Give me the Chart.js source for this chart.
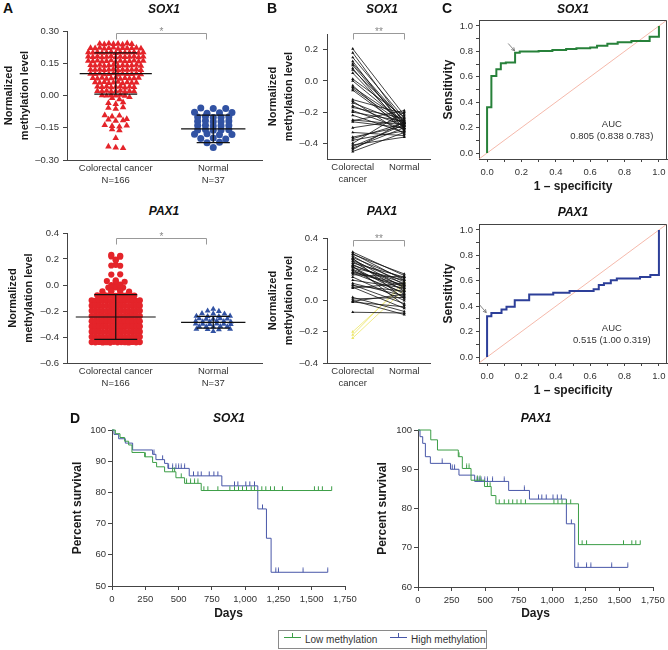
<!DOCTYPE html>
<html>
<head>
<meta charset="utf-8">
<script src="https://cdn.jsdelivr.net/npm/chart.js@4.4.1/dist/chart.umd.min.js"></script>
<style>
  body { margin: 0; background: #fff; }
  #fig { position: relative; width: 668px; height: 650px; overflow: hidden; font-family: "Liberation Sans", Arial, sans-serif; color: #222; }
  #fig canvas { position: absolute; }
  .txt { position: absolute; white-space: nowrap; transform: translate(-50%, -50%); line-height: 1; }
  .letter { font-size: 14px; font-weight: bold; color: #111; }
  .gene { font-size: 12px; font-weight: bold; font-style: italic; color: #111; }
  #legend { position: absolute; left: 278px; top: 630px; width: 209px; height: 19px; box-sizing: border-box; border: 1px solid #8a8a8a; font-size: 10px; color: #333; }
  .item { position: absolute; top: 3px; height: 12px; line-height: 12px; }
  .sample { position: absolute; top: 6px; width: 17px; height: 1px; }
  .sample i { position: absolute; left: 8px; top: -4px; width: 1px; height: 4px; }
</style>
</head>
<body>
<div id="fig">
  <div id="legend">
    <span class="sample" style="left:5px;background:#3c9e47"><i style="background:#3c9e47"></i></span>
    <span class="item" style="left:26px">Low methylation</span>
    <span class="sample" style="left:111px;background:#4857a8"><i style="background:#4857a8"></i></span>
    <span class="item" style="left:132px">High methylation</span>
  </div>
</div>
<script>
// ---- A: methylation levels (beeswarm) ----
const groupLabelsA = [['Colorectal cancer', 'N=166'], ['Normal', 'N=37']];

const sox1CancerA = [
  0.241, 0.238, 0.242, 0.239, 0.240, 0.237, 0.243, 0.239,
  0.221, 0.219, 0.222, 0.218, 0.220, 0.223, 0.217, 0.221, 0.219, 0.220, 0.222, 0.218,
  0.201, 0.199, 0.202, 0.198, 0.200, 0.203, 0.197, 0.201, 0.199, 0.200, 0.202, 0.198, 0.201,
  0.181, 0.179, 0.182, 0.178, 0.180, 0.183, 0.177, 0.181, 0.179, 0.180, 0.182, 0.178, 0.181,
  0.161, 0.159, 0.162, 0.158, 0.160, 0.163, 0.157, 0.161, 0.159, 0.160, 0.162, 0.158, 0.161,
  0.141, 0.139, 0.142, 0.138, 0.140, 0.143, 0.137, 0.141, 0.139, 0.140, 0.142, 0.138,
  0.121, 0.119, 0.122, 0.118, 0.120, 0.123, 0.117, 0.121, 0.119, 0.120, 0.122, 0.118,
  0.101, 0.099, 0.102, 0.098, 0.100, 0.103, 0.097, 0.101, 0.099, 0.100, 0.102, 0.098,
  0.081, 0.079, 0.082, 0.078, 0.080, 0.083, 0.077, 0.081, 0.079, 0.080, 0.082,
  0.061, 0.059, 0.062, 0.058, 0.060, 0.063, 0.057, 0.061, 0.059, 0.060,
  0.041, 0.039, 0.042, 0.038, 0.040, 0.043, 0.037, 0.041, 0.039,
  0.021, 0.019, 0.022, 0.018, 0.020, 0.023, 0.017, 0.021, 0.019,
  0.001, -0.001, 0.002, 0.000, 0.003, -0.002,
  -0.012, -0.018, -0.035, -0.040, -0.032, -0.058, -0.062, -0.055, -0.092, -0.098, -0.094,
  -0.112, -0.118, -0.115, -0.110, -0.138, -0.142, -0.145, -0.140, -0.158, -0.162, -0.198,
  -0.238, -0.242, -0.245, -0.008
];
const sox1NormalA = [
  -0.058, -0.061, -0.060, -0.078, -0.082, -0.080, -0.079,
  -0.100, -0.098, -0.102, -0.101, -0.099, -0.120, -0.118, -0.122, -0.121, -0.119,
  -0.140, -0.138, -0.142, -0.141, -0.139, -0.160, -0.158, -0.162, -0.161, -0.159,
  -0.180, -0.178, -0.182, -0.181, -0.200, -0.198, -0.202, -0.220, -0.218, -0.242
];
const sox1MeanA = [0.102, -0.155];
const sox1SdA = [0.096, 0.064];

const pax1CancerA = [
  0.232, 0.220, 0.225, 0.218, 0.190, 0.195, 0.150, 0.155, 0.148, 0.080, 0.082,
  0.030, 0.028, 0.035, 0.025, 0.005, 0.000, 0.003,
  -0.020, -0.022, -0.018, -0.025, -0.020, -0.045, -0.048, -0.050, -0.042, -0.046, -0.050,
  -0.079, -0.081, -0.078, -0.082, -0.080, -0.083, -0.077, -0.081, -0.079, -0.080, -0.082,
  -0.119, -0.121, -0.118, -0.122, -0.120, -0.123, -0.117, -0.121, -0.119, -0.120, -0.122, -0.118, -0.121, -0.119,
  -0.159, -0.161, -0.158, -0.162, -0.160, -0.163, -0.157, -0.161, -0.159, -0.160, -0.162, -0.158, -0.161, -0.159,
  -0.199, -0.201, -0.198, -0.202, -0.200, -0.203, -0.197, -0.201, -0.199, -0.200, -0.202, -0.198, -0.201, -0.199,
  -0.239, -0.241, -0.238, -0.242, -0.240, -0.243, -0.237, -0.241, -0.239, -0.240, -0.242, -0.238, -0.241, -0.239,
  -0.279, -0.281, -0.278, -0.282, -0.280, -0.283, -0.277, -0.281, -0.279, -0.280, -0.282, -0.278, -0.281, -0.279,
  -0.319, -0.321, -0.318, -0.322, -0.320, -0.323, -0.317, -0.321, -0.319, -0.320, -0.322, -0.318, -0.321, -0.319,
  -0.359, -0.361, -0.358, -0.362, -0.360, -0.363, -0.357, -0.361, -0.359, -0.360, -0.362, -0.358, -0.361, -0.359,
  -0.399, -0.401, -0.398, -0.402, -0.400, -0.403, -0.397, -0.401, -0.399, -0.400, -0.402, -0.398, -0.401, -0.399,
  -0.439, -0.441, -0.438, -0.442, -0.440, -0.443, -0.437, -0.441, -0.439, -0.440, -0.442, -0.438, -0.441, -0.439
];
const pax1NormalA = [
  -0.185, -0.199, -0.202, -0.219, -0.221, -0.222, -0.239, -0.241, -0.242, -0.238,
  -0.259, -0.261, -0.262, -0.258, -0.260, -0.279, -0.281, -0.282, -0.278, -0.280, -0.283,
  -0.299, -0.301, -0.302, -0.298, -0.300, -0.303, -0.319, -0.321, -0.322, -0.318, -0.320,
  -0.339, -0.341, -0.342, -0.338, -0.356
];
const pax1MeanA = [-0.246, -0.287];
const pax1SdA = [0.172, 0.045];

// ---- B: paired samples ----
const groupLabelsB = [['Colorectal', 'cancer'], 'Normal'];
const sox1PairCancer = [0.205, 0.180, 0.150, 0.125, 0.110, 0.100, 0.080, 0.070, 0.050, 0.012, 0.000, -0.030, -0.040,
  -0.050, -0.060, -0.120, -0.130, -0.140, -0.160, -0.170, -0.190, -0.200, -0.220, -0.250, -0.255, -0.262,
  -0.300, -0.330, -0.360, -0.370, -0.380, -0.400, -0.410, -0.420, -0.430, -0.440, -0.452];
const sox1PairNormal = [-0.220, -0.270, -0.240, -0.300, -0.260, -0.280, -0.310, -0.250, -0.290, -0.230, -0.270, -0.320,
  -0.260, -0.280, -0.300, -0.210, -0.340, -0.270, -0.290, -0.240, -0.310, -0.260, -0.330, -0.280, -0.190,
  -0.300, -0.250, -0.350, -0.290, -0.270, -0.320, -0.200, -0.360, -0.280, -0.300, -0.260, -0.330];
const pax1PairCancer = [0.310, 0.300, 0.295, 0.285, 0.275, 0.265, 0.255, 0.250, 0.240, 0.230, 0.225, 0.215, 0.210,
  0.200, 0.195, 0.185, 0.175, 0.165, 0.150, 0.130, 0.110, 0.100, 0.095, 0.085, 0.080, 0.020, 0.010, 0.000,
  -0.005, -0.010, -0.075, 0.270, 0.220, 0.180];
const pax1PairNormal = [0.160, 0.130, 0.170, 0.100, 0.140, 0.080, 0.120, 0.060, 0.150, 0.090, 0.110, 0.040, 0.130,
  0.070, 0.020, 0.100, 0.050, 0.150, 0.000, 0.080, 0.030, -0.020, 0.060, -0.050, 0.110, -0.070, 0.020,
  -0.090, 0.040, -0.040, -0.080, 0.010, -0.030, 0.090];
const pax1PairCancerYellow = [-0.200, -0.220, -0.240];
const pax1PairNormalYellow = [0.100, 0.120, 0.070];

// ---- C: ROC curves [1 - specificity, sensitivity] ----
const rocSox1 = [[0, 0], [0, 0.361], [0.025, 0.607], [0.054, 0.660], [0.080, 0.707], [0.109, 0.712], [0.163, 0.790],
  [0.190, 0.800], [0.300, 0.803], [0.380, 0.810], [0.460, 0.818], [0.520, 0.825], [0.600, 0.830], [0.640, 0.845],
  [0.700, 0.860], [0.760, 0.872], [0.840, 0.882], [0.946, 0.916], [1.0, 1.0]];
const rocPax1 = [[0, 0], [0, 0.321], [0.025, 0.347], [0.084, 0.374], [0.113, 0.395], [0.161, 0.447], [0.245, 0.492],
  [0.385, 0.505], [0.480, 0.520], [0.620, 0.534], [0.650, 0.566], [0.680, 0.580], [0.720, 0.605], [0.755, 0.618],
  [0.890, 0.630], [0.950, 0.645], [1.0, 0.653], [1.0, 1.0]];
const aucSox1 = ['AUC', '0.805 (0.838 0.783)'];
const aucPax1 = ['AUC', '0.515 (1.00 0.319)'];
const rocTicks = [0, 0.1, 0.2, 0.3, 0.4, 0.5, 0.6, 0.7, 0.8, 0.9, 1.0];

// ---- D: Kaplan-Meier [day, percent survival] ----
const kmDays = [0, 250, 500, 750, 1000, 1250, 1500, 1750];
const sox1Low = [[0, 100], [25, 98.8], [60, 97.6], [95, 96.4], [125, 95.2], [150, 92.8], [245, 91.4], [305, 89.6],
  [335, 88.2], [395, 86.6], [480, 84.7], [545, 82.9], [670, 80.6], [1650, 80.6]];
const sox1High = [[0, 100], [15, 98.6], [50, 97.2], [100, 95.8], [155, 93.6], [305, 92.2], [330, 90.5], [395, 89.3],
  [420, 87.7], [580, 85.3], [825, 82.1], [1095, 74.7], [1160, 65.3], [1195, 54.4], [1620, 54.4]];
const sox1LowCensor = [250, 455, 470, 520, 560, 590, 620, 645, 690, 720, 795, 885, 920, 950, 980, 1010, 1045, 1070,
  1125, 1155, 1190, 1220, 1280, 1520, 1550, 1580, 1650];
const sox1HighCensor = [315, 380, 425, 455, 480, 500, 520, 545, 612, 645, 670, 730, 765, 795, 920, 945, 1005, 1035,
  1070, 1130, 1230, 1250, 1435, 1620];
const pax1Low = [[0, 100], [95, 97.5], [145, 94.9], [300, 93.2], [330, 90.2], [395, 87.2], [495, 85.6], [545, 83.3],
  [580, 81.2], [1195, 70.8], [1655, 70.8]];
const pax1High = [[0, 100], [15, 98.3], [35, 96.6], [55, 93.2], [92, 91.5], [242, 90.0], [305, 88.5], [422, 86.9],
  [675, 84.6], [830, 82.4], [1105, 76.1], [1167, 65.0], [1562, 65.0]];
const pax1LowCensor = [305, 362, 380, 442, 462, 517, 537, 605, 642, 675, 705, 737, 767, 800, 1012, 1042, 1072, 1105,
  1137, 1222, 1255, 1530, 1592, 1622, 1655];
const pax1HighCensor = [180, 255, 272, 440, 455, 470, 497, 517, 555, 642, 792, 897, 922, 955, 1005, 1037, 1067, 1142,
  1192, 1255, 1287, 1442, 1562];

// ---------------------------------------------------------------
Chart.defaults.font.family = '"Liberation Sans", Arial, sans-serif';
Chart.defaults.color = '#333';
const fig = document.getElementById('fig');
const RED = '#e4242a', BLUE = '#3152a3', GREEN_KM = '#3c9e47', BLUE_KM = '#4857a8';

function put(text, x, y, cls) {
  const d = document.createElement('div');
  d.className = 'txt ' + cls;
  d.textContent = text;
  d.style.left = x + 'px';
  d.style.top = y + 'px';
  fig.appendChild(d);
}

// rows of equal value spread sideways, like a dot plot
function swarm(values, center, stepY, gap, wide) {
  const rows = {};
  values.forEach(v => {
    const k = Math.round(v / stepY);
    (rows[k] = rows[k] || []).push(v);
  });
  const pts = [];
  Object.values(rows).forEach(row => {
    const sp = row.length <= 4 ? gap * wide : gap;
    row.forEach((v, i) => pts.push({ x: center + (i - (row.length - 1) / 2) * sp, y: v }));
  });
  return pts;
}

function meanSd(mean, sd, c, hm, hc) {
  return [
    { x: c - hm, y: mean }, { x: c + hm, y: mean }, { x: c, y: null },
    { x: c - hc, y: mean + sd }, { x: c + hc, y: mean + sd }, { x: c, y: null },
    { x: c - hc, y: mean - sd }, { x: c + hc, y: mean - sd }, { x: c, y: null },
    { x: c, y: mean - sd }, { x: c, y: mean + sd }
  ];
}

function survAt(steps, t) {
  let s = steps[0][1];
  steps.forEach(p => { if (p[0] <= t) s = p[1]; });
  return s;
}

function censorMark(color) {
  const c = document.createElement('canvas');
  c.width = 3; c.height = 10;
  const g = c.getContext('2d');
  g.strokeStyle = color; g.lineWidth = 1;
  g.beginPath(); g.moveTo(1.5, 0.5); g.lineTo(1.5, 5); g.stroke();
  return c;
}

const dash = v => String(v).replace('-', '–');

const deco = {
  id: 'deco',
  afterDatasetsDraw(chart, args, o) {
    const { ctx, chartArea: a, scales: { x, y } } = chart;
    ctx.save();
    if (o.frame) {
      ctx.strokeStyle = '#444'; ctx.lineWidth = 1;
      ctx.beginPath();
      ctx.moveTo(a.left, a.top + 0.5);
      ctx.lineTo(a.right - 0.5, a.top + 0.5);
      ctx.lineTo(a.right - 0.5, a.bottom);
      ctx.stroke();
    }
    if (o.bracket) {
      const b = o.bracket;
      const p1 = Math.round(x.getPixelForValue(b.x1)) + 0.5, p2 = Math.round(x.getPixelForValue(b.x2)) + 0.5;
      const py = Math.round(y.getPixelForValue(b.y)) + 0.5;
      ctx.strokeStyle = '#999'; ctx.lineWidth = 1;
      ctx.beginPath();
      ctx.moveTo(p1, py + 6); ctx.lineTo(p1, py); ctx.lineTo(p2, py); ctx.lineTo(p2, py + 6);
      ctx.stroke();
      ctx.fillStyle = '#888'; ctx.font = '10px "Liberation Sans", Arial';
      ctx.textAlign = 'center'; ctx.textBaseline = 'alphabetic';
      ctx.fillText(b.text, (p1 + p2) / 2, py + 1);
    }
    (o.texts || []).forEach(t => {
      ctx.fillStyle = '#333'; ctx.font = '9.5px "Liberation Sans", Arial';
      ctx.textAlign = 'center'; ctx.textBaseline = 'middle';
      ctx.fillText(t.t, x.getPixelForValue(t.x), y.getPixelForValue(t.y));
    });
    if (o.arrow) {
      const [fx, fy] = o.arrow.from, [tx, ty] = o.arrow.to;
      const x1 = x.getPixelForValue(fx), y1 = y.getPixelForValue(fy);
      const x2 = x.getPixelForValue(tx), y2 = y.getPixelForValue(ty);
      const ang = Math.atan2(y2 - y1, x2 - x1);
      ctx.strokeStyle = '#666'; ctx.lineWidth = 0.8;
      ctx.beginPath(); ctx.moveTo(x1, y1); ctx.lineTo(x2, y2);
      ctx.moveTo(x2 - 3.5 * Math.cos(ang - 0.5), y2 - 3.5 * Math.sin(ang - 0.5));
      ctx.lineTo(x2, y2);
      ctx.lineTo(x2 - 3.5 * Math.cos(ang + 0.5), y2 - 3.5 * Math.sin(ang + 0.5));
      ctx.stroke();
    }
    ctx.restore();
  }
};

function yScale(o) {
  return {
    type: 'linear', min: o.min, max: o.max, bounds: 'data',
    afterBuildTicks: s => { s.ticks = o.ticks.map(v => ({ value: v })); },
    ticks: { callback: o.fmt, color: '#333', font: { size: o.fs || 9.5 }, padding: o.pad, autoSkip: false },
    grid: { drawOnChartArea: false, tickLength: o.tl, color: '#444' },
    border: { color: '#444', width: 1 },
    title: { display: true, text: o.title, color: '#1a1a1a', padding: 0,
      font: { size: o.tsize, weight: 'bold', lineHeight: o.tlh || 1.2 } }
  };
}

function xScale(o) {
  return {
    type: 'linear', min: o.min, max: o.max, bounds: 'data',
    afterBuildTicks: s => { s.ticks = o.ticks.map(v => ({ value: v })); },
    ticks: { callback: o.fmt, color: '#333', font: { size: o.fs || 9.5, lineHeight: 1.3 }, padding: o.pad,
      autoSkip: false, maxRotation: 0 },
    grid: o.tl ? { drawOnChartArea: false, tickLength: o.tl, color: '#444' } : { display: false },
    border: { color: '#444', width: 1 },
    title: o.title ? { display: true, text: o.title, color: '#1a1a1a', padding: 0,
      font: { size: 12, weight: 'bold', lineHeight: 1.2 } } : { display: false }
  };
}

function makeChart(b, datasets, scales, decoOpts) {
  const top = b.plotT - b.padT;
  const w = b.plotR + b.padR - b.left;
  const h = b.plotB + b.xh - top;
  const c = document.createElement('canvas');
  c.width = w; c.height = h;
  c.style.left = b.left + 'px'; c.style.top = top + 'px';
  c.style.width = w + 'px'; c.style.height = h + 'px';
  fig.appendChild(c);
  scales.x.afterFit = s => { s.height = b.xh; s.paddingLeft = 0; s.paddingRight = 0; };
  scales.y.afterFit = s => { s.width = b.plotL - b.left; s.paddingTop = 0; s.paddingBottom = 0; };
  return new Chart(c, {
    type: 'scatter',
    data: { datasets },
    options: {
      responsive: false, animation: false, devicePixelRatio: 1,
      layout: { padding: { top: b.padT, right: b.padR, left: 0, bottom: 0 } },
      scales,
      plugins: { legend: { display: false }, tooltip: { enabled: false }, deco: decoOpts || {} }
    },
    plugins: [deco]
  });
}

function errDataset(data) {
  return { data, showLine: true, spanGaps: false, borderColor: '#111', borderWidth: 1.2, pointRadius: 0, order: 0, clip: false };
}

// ---- panel A ----
const catX = { min: -0.5, max: 1.5, ticks: [0, 1], pad: -6, fmt: v => groupLabelsA[v] };
makeChart({ left: 1, plotL: 67, plotR: 262, plotT: 31, plotB: 160, xh: 30, padT: 10, padR: 4 }, [
  errDataset(meanSd(sox1MeanA[0], sox1SdA[0], 0, 0.37, 0.22)),
  errDataset(meanSd(sox1MeanA[1], sox1SdA[1], 1, 0.33, 0.17)),
  { data: swarm(sox1CancerA, 0, 0.02, 0.047, 1.6), pointStyle: 'triangle', pointRadius: 3.8, backgroundColor: RED, borderWidth: 0, order: 1 },
  { data: swarm(sox1NormalA, 1, 0.02, 0.08, 1.6), pointStyle: 'circle', pointRadius: 3.5, backgroundColor: BLUE, borderWidth: 0, order: 1 }
], {
  x: xScale(catX),
  y: yScale({ min: -0.3, max: 0.3, ticks: [-0.3, -0.15, 0, 0.15, 0.3], fmt: v => dash(v.toFixed(2)), pad: 4, tl: 4,
    title: ['Normalized', 'methylation level'], tsize: 11, tlh: 1.45 })
}, { bracket: { x1: 0, x2: 0.93, y: 0.291, text: '*' } });

makeChart({ left: 5, plotL: 67, plotR: 262, plotT: 233, plotB: 363, xh: 30, padT: 10, padR: 4 }, [
  errDataset(meanSd(pax1MeanA[0], pax1SdA[0], 0, 0.41, 0.22)),
  errDataset(meanSd(pax1MeanA[1], pax1SdA[1], 1, 0.33, 0.17)),
  { data: swarm(pax1CancerA, 0, 0.01, 0.038, 2.4), pointStyle: 'circle', pointRadius: 3.1, backgroundColor: RED, borderWidth: 0, order: 1 },
  { data: swarm(pax1NormalA, 1, 0.02, 0.072, 1.6), pointStyle: 'triangle', pointRadius: 3.4, backgroundColor: BLUE, borderWidth: 0, order: 1 }
], {
  x: xScale(catX),
  y: yScale({ min: -0.6, max: 0.4, ticks: [-0.6, -0.4, -0.2, 0, 0.2, 0.4], fmt: v => dash(v.toFixed(1)), pad: 4, tl: 4,
    title: ['Normalized', 'methylation level'], tsize: 11, tlh: 1.45 })
}, { bracket: { x1: 0, x2: 0.93, y: 0.362, text: '*' } });

// ---- panel B ----
function pairSets(cancer, normal, color) {
  return cancer.map((v, i) => ({
    data: [{ x: 0, y: v }, { x: 1, y: normal[i] }], showLine: true, borderColor: color, borderWidth: 0.8,
    pointStyle: 'triangle', pointRadius: 1.8, pointBackgroundColor: color, pointBorderWidth: 0, clip: false
  }));
}
const catXB = { min: -0.5, max: 1.5, ticks: [0, 1], pad: -6, fmt: v => groupLabelsB[v] };
makeChart({ left: 265, plotL: 327, plotR: 430, plotT: 34, plotB: 159, xh: 30, padT: 10, padR: 4 },
  pairSets(sox1PairCancer, sox1PairNormal, '#111'), {
  x: xScale(catXB),
  y: yScale({ min: -0.5, max: 0.3, ticks: [-0.4, -0.2, 0, 0.2], fmt: v => dash(v.toFixed(1)), pad: 5, tl: 4,
    title: ['Normalized', 'methylation level'], tsize: 11, tlh: 1.45 })
}, { bracket: { x1: 0, x2: 1, y: 0.306, text: '**' } });

makeChart({ left: 265, plotL: 327, plotR: 430, plotT: 238, plotB: 363, xh: 30, padT: 10, padR: 4 },
  pairSets(pax1PairCancer, pax1PairNormal, '#111').concat(pairSets(pax1PairCancerYellow, pax1PairNormalYellow, '#ece66a')), {
  x: xScale(catXB),
  y: yScale({ min: -0.4, max: 0.4, ticks: [-0.4, -0.2, 0, 0.2, 0.4], fmt: v => dash(v.toFixed(1)), pad: 5, tl: 4,
    title: ['Normalized', 'methylation level'], tsize: 11, tlh: 1.45 })
}, { bracket: { x1: 0, x2: 1, y: 0.387, text: '**' } });

// ---- panel C ----
const rocLabel = v => (Math.round(v * 10) % 2 === 0 ? v.toFixed(1) : '');
function rocChart(b, roc, color, auc, arrow) {
  const lo = -0.047, hi = 1.047;
  makeChart(b, [
    { data: roc.map(p => ({ x: p[0], y: p[1] })), showLine: true, stepped: true, borderColor: color, borderWidth: 2,
      pointRadius: 0, clip: false, order: 0 },
    { data: [{ x: lo, y: lo }, { x: hi, y: hi }], showLine: true, borderColor: '#f2a796', borderWidth: 0.8, pointRadius: 0, order: 1 }
  ], {
    x: xScale({ min: lo, max: hi, ticks: rocTicks, fmt: rocLabel, pad: 4, tl: 3, fs: 9.5, title: '1 – specificity' }),
    y: yScale({ min: lo, max: hi, ticks: rocTicks, fmt: rocLabel, pad: 3, tl: 3, title: 'Sensitivity', tsize: 12 })
  }, {
    frame: true,
    texts: [{ x: 0.726, y: 0.222, t: auc[0] }, { x: 0.726, y: 0.131, t: auc[1] }],
    arrow
  });
}
rocChart({ left: 441, plotL: 479, plotR: 667, plotT: 20, plotB: 159, xh: 35, padT: 8, padR: 1 },
  rocSox1, '#27813a', aucSox1, { from: [0.123, 0.862], to: [0.160, 0.805] });
rocChart({ left: 441, plotL: 479, plotR: 667, plotT: 224, plotB: 363, xh: 35, padT: 8, padR: 1 },
  rocPax1, '#2d3f99', aucPax1, { from: [-0.043, 0.410], to: [-0.005, 0.350] });

// ---- panel D ----
function kmChart(b, low, high, lowC, highC, yMin, yTicks) {
  const stepSet = (steps, color) => ({ data: steps.map(p => ({ x: p[0], y: p[1] })), showLine: true, stepped: true,
    borderColor: color, borderWidth: 1, pointRadius: 0, clip: false });
  const censorSet = (steps, days, color) => ({ data: days.map(d => ({ x: d, y: survAt(steps, d) })),
    pointStyle: censorMark(color), pointRadius: 3, clip: false });
  makeChart(b, [
    stepSet(low, GREEN_KM), censorSet(low, lowC, GREEN_KM),
    stepSet(high, BLUE_KM), censorSet(high, highC, BLUE_KM)
  ], {
    x: xScale({ min: 0, max: 1750, ticks: kmDays, fmt: v => v.toLocaleString('en-US'), pad: 3, tl: 4, fs: 9.5, title: 'Days' }),
    y: yScale({ min: yMin, max: 100, ticks: yTicks, fmt: v => String(v), pad: 2, tl: 4, title: 'Percent survival', tsize: 12 })
  });
}
kmChart({ left: 70, plotL: 112, plotR: 345, plotT: 430, plotB: 586, xh: 35, padT: 8, padR: 12 },
  sox1Low, sox1High, sox1LowCensor, sox1HighCensor, 50, [50, 60, 70, 80, 90, 100]);
kmChart({ left: 375, plotL: 418, plotR: 653, plotT: 430, plotB: 587, xh: 34, padT: 8, padR: 14 },
  pax1Low, pax1High, pax1LowCensor, pax1HighCensor, 60, [60, 70, 80, 90, 100]);

// ---- labels ----
put('A', 8, 8, 'letter');
put('B', 272, 8, 'letter');
put('C', 447, 8, 'letter');
put('D', 75, 418, 'letter');
put('SOX1', 164, 9, 'gene');
put('PAX1', 164, 211, 'gene');
put('SOX1', 382, 9, 'gene');
put('PAX1', 382, 211, 'gene');
put('SOX1', 573, 9, 'gene');
put('PAX1', 573, 212, 'gene');
put('SOX1', 229, 418, 'gene');
put('PAX1', 536, 418, 'gene');
</script>
</body>
</html>
